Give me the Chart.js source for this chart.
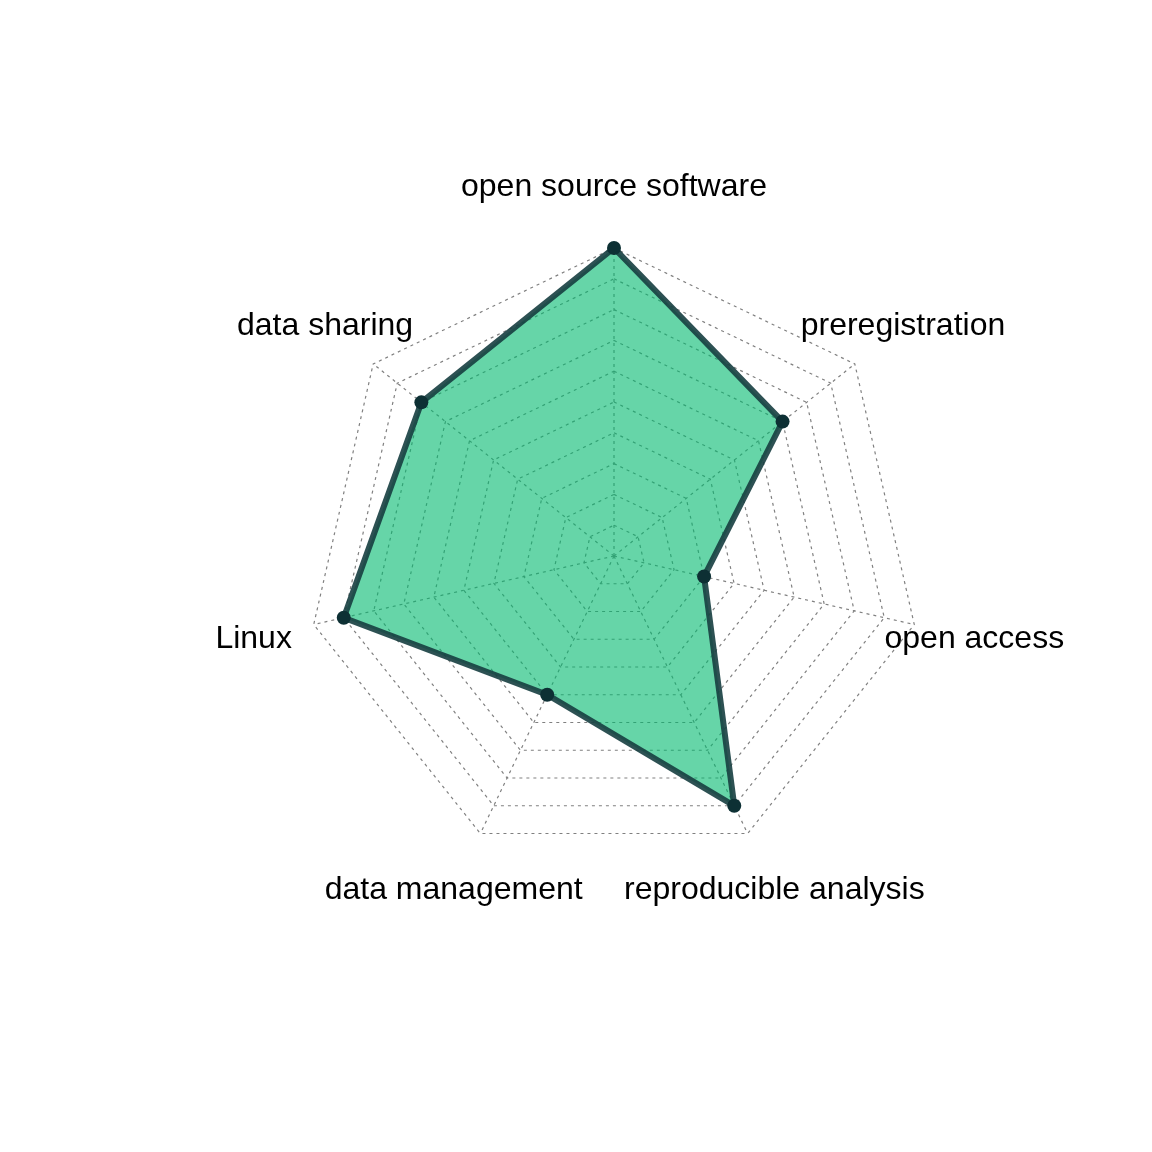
<!DOCTYPE html>
<html>
<head>
<meta charset="utf-8">
<script src="https://cdn.jsdelivr.net/npm/chart.js@4/dist/chart.umd.min.js"></script>
<style>
  html, body { margin: 0; padding: 0; background: #ffffff; }
  #wrap { width: 1152px; height: 1152px; }
</style>
</head>
<body>
<div id="wrap"><canvas id="c" width="1152" height="1152"></canvas></div>
<script>
// Categories in clockwise order starting at the top
const categories = [
  "open source software",
  "preregistration",
  "open access",
  "reproducible analysis",
  "data management",
  "Linux",
  "data sharing"
];
const values = [1.0, 0.7, 0.3, 0.9, 0.5, 0.9, 0.8];
const scaleMin = 0;
const scaleMax = 1;
const scaleStep = 0.1;

const labelPlugin = {
  id: 'outerLabels',
  afterDraw(chart) {
    const s = chart.scales.r;
    const ctx = chart.ctx;
    ctx.save();
    ctx.font = '32px "Liberation Sans", Arial, sans-serif';
    ctx.fillStyle = '#000000';
    ctx.textAlign = 'center';
    ctx.textBaseline = 'middle';
    categories.forEach((lab, i) => {
      const p = s.getPointPosition(i, s.drawingArea * 1.2);
      ctx.fillText(lab, p.x, p.y + 1);
    });
    ctx.restore();
  }
};

new Chart(document.getElementById('c'), {
  type: 'radar',
  data: {
    labels: categories,
    datasets: [{
      data: values,
      backgroundColor: 'rgba(0,185,110,0.6)',
      borderColor: 'rgba(22,62,64,0.9)',
      borderWidth: 6,
      pointRadius: 7,
      pointBackgroundColor: '#0d3034',
      pointBorderColor: '#0d3034',
      pointBorderWidth: 0,
      fill: true,
      tension: 0
    }]
  },
  options: {
    responsive: false,
    animation: false,
    devicePixelRatio: 1,
    layout: { padding: { left: 306, right: 230, top: 248, bottom: 288 } },
    plugins: { legend: { display: false }, tooltip: { enabled: false } },
    scales: {
      r: {
        min: scaleMin,
        max: scaleMax,
        ticks: { display: false, stepSize: scaleStep },
        pointLabels: { display: false },
        grid: { color: '#808080', lineWidth: 1.2, circular: false },
        border: { dash: [3, 4] },
        angleLines: { color: '#808080', lineWidth: 1.2, borderDash: [3, 4] }
      }
    }
  },
  plugins: [labelPlugin]
});
</script>
</body>
</html>
